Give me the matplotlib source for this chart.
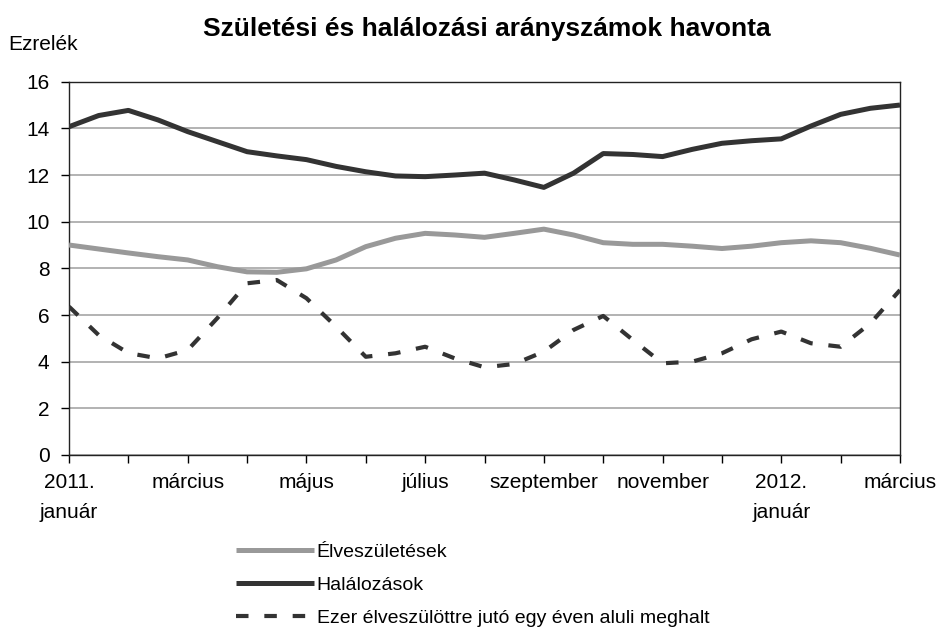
import matplotlib
matplotlib.use("Agg")
import matplotlib.pyplot as plt
import numpy as np

plt.rcParams['font.family'] = ['Liberation Sans', 'DejaVu Sans']

# half-month positions (0 = 2011 January, 14 = 2012 March)
months = [0, 0.5, 1, 1.5, 2, 2.5, 3, 3.5, 4, 4.5, 5, 5.5, 6, 6.5, 7, 7.5,
          8, 8.5, 9, 9.5, 10, 10.5, 11, 11.5, 12, 12.5, 13, 13.5, 14]

births = [9.0, 8.83, 8.66, 8.5, 8.36, 8.07, 7.85, 7.83, 7.98, 8.36, 8.93, 9.29,
          9.5, 9.43, 9.33, 9.5, 9.68, 9.43, 9.1, 9.03, 9.03, 8.95, 8.85, 8.95,
          9.1, 9.18, 9.1, 8.86, 8.57]

deaths = [14.07, 14.55, 14.77, 14.36, 13.86, 13.43, 13.0, 12.82, 12.66, 12.37,
          12.14, 11.96, 11.93, 12.0, 12.08, 11.79, 11.47, 12.08, 12.92, 12.88,
          12.79, 13.1, 13.36, 13.47, 13.55, 14.1, 14.6, 14.86, 15.0]

infant = [6.36, 5.14, 4.37, 4.14, 4.5, 5.87, 7.36, 7.5, 6.72, 5.5, 4.21, 4.36,
          4.64, 4.14, 3.76, 3.9, 4.43, 5.36, 5.96, 4.93, 3.93, 4.0, 4.36, 4.96,
          5.29, 4.79, 4.64, 5.64, 7.07]

tick_pos = list(range(15))
label_pos = [0, 2, 4, 6, 8, 10, 12, 14]
tick_labels = ["2011.\njanuár", "március", "május", "július", "szeptember",
               "november", "2012.\njanuár", "március"]

title = "Születési és halálozási arányszámok havonta"
ylabel = "Ezrelék"
names = ["Élveszületések", "Halálozások", "Ezer élveszülöttre jutó egy éven aluli meghalt"]

fig = plt.figure(figsize=(9.38, 6.32), dpi=100)
ax = fig.add_axes([69/938, 177/632, (900-69)/938, (455-81.7)/632])

fs = 15
l1, = ax.plot(months, births, color='#999999', lw=3.6, solid_capstyle='butt', solid_joinstyle='round', zorder=3)
l2, = ax.plot(months, deaths, color='#333333', lw=3.6, solid_capstyle='butt', solid_joinstyle='round', zorder=3)
l3, = ax.plot(months, infant, color='#333333', lw=3.0, linestyle=(0, (3, 3.8)), dash_capstyle='butt', zorder=3)

ax.set_xlim(0, 14)
ax.set_ylim(0, 16)
ax.set_yticks(range(0, 17, 2))
ax.set_xticks(tick_pos, minor=True)
ax.set_xticks(label_pos)
ax.set_xticklabels(tick_labels, fontsize=fs, linespacing=1.75)
ax.tick_params(axis='y', labelsize=fs, length=6, width=1, direction='out', pad=8)
ax.tick_params(axis='x', which='both', length=6, width=1, direction='out', pad=7)
ax.grid(axis='y', color='#a6a6a6', lw=1.2, zorder=1)
for s in ax.spines.values():
    s.set_color('#222222')
    s.set_linewidth(1.0)

fig.text(487/938, 1 - 29/632, title, fontsize=19, fontweight='bold', ha='center', va='center')
fig.text(8/938, 1 - 45/632, ylabel, fontsize=fs, ha='left', va='center')

fig.legend([l1, l2, l3], names, loc='upper left', bbox_to_anchor=(236/938, 1 - 543/632),
           frameon=False, fontsize=14, handlelength=4.0, handletextpad=0.15,
           labelspacing=0.8, borderaxespad=0, borderpad=0)

fig.savefig("out.png", dpi=100)
